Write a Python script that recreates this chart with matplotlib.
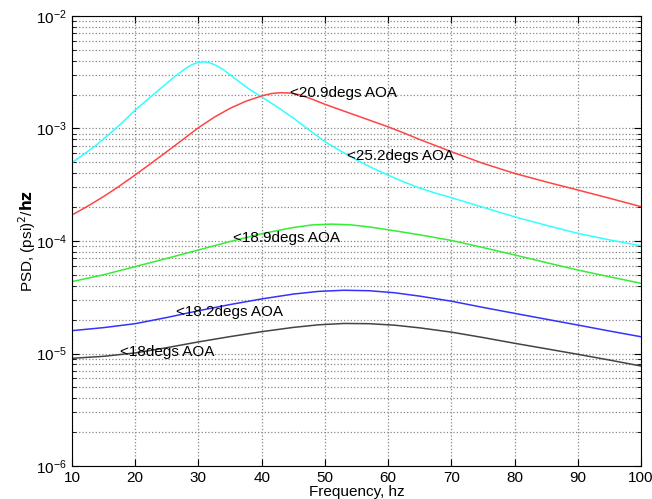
import matplotlib

matplotlib.use("Agg")

import matplotlib.pyplot as plt
from matplotlib.ticker import LogLocator, NullFormatter

plt.rcParams["font.family"] = ["Liberation Sans", "DejaVu Sans"]

# values
freq_c = [10, 12, 14, 16, 18, 20, 22, 24, 26, 28, 29, 30, 31, 32, 33, 34, 35, 36, 38,
          40, 42.5, 45, 47.5, 50, 52.5, 55, 57.5, 60, 62.5, 65, 67.5, 70, 75, 80, 85, 90,
          95, 100]
psd_252 = [4.97e-4, 5.96e-4, 7.24e-4, 9.02e-4, 1.135e-3, 1.459e-3, 1.82e-3, 2.265e-3,
           2.818e-3, 3.428e-3, 3.698e-3, 3.873e-3, 3.908e-3, 3.80e-3, 3.589e-3, 3.311e-3,
           2.999e-3, 2.723e-3, 2.239e-3, 1.905e-3, 1.549e-3, 1.239e-3, 9.70e-4, 7.64e-4,
           6.31e-4, 5.25e-4, 4.467e-4, 3.846e-4, 3.35e-4, 2.951e-4, 2.661e-4, 2.427e-4,
           1.995e-4, 1.641e-4, 1.38e-4, 1.17e-4, 1.023e-4, 9.08e-5]

freq_r = [10, 12.5, 15, 17.5, 20, 22.5, 25, 27.5, 30, 32.5, 35, 37.5, 40, 41.5, 43, 44.5,
          46, 48, 50, 52.5, 55, 57.5, 60, 62.5, 65, 67.5, 70, 75, 80, 85, 90, 95, 100]
psd_209 = [1.702e-4, 2.042e-4, 2.483e-4, 3.076e-4, 3.864e-4, 4.898e-4, 6.223e-4, 7.943e-4,
           1.016e-3, 1.259e-3, 1.510e-3, 1.746e-3, 1.945e-3, 2.042e-3, 2.080e-3, 2.065e-3,
           1.995e-3, 1.820e-3, 1.641e-3, 1.462e-3, 1.303e-3, 1.161e-3, 1.035e-3, 9.12e-4,
           7.98e-4, 7.05e-4, 6.22e-4, 4.90e-4, 3.99e-4, 3.35e-4, 2.84e-4, 2.40e-4, 2.02e-4]

freq_g = [10, 15, 20, 25, 30, 35, 40, 45, 48, 51, 54, 57, 60, 65, 70, 75, 80, 85, 90, 95, 100]
psd_189 = [4.355e-5, 5.01e-5, 5.92e-5, 7.0e-5, 8.32e-5, 9.89e-5, 1.161e-4, 1.318e-4,
           1.39e-4, 1.413e-4, 1.393e-4, 1.334e-4, 1.259e-4, 1.135e-4, 1.012e-4, 8.75e-5,
           7.52e-5, 6.43e-5, 5.52e-5, 4.81e-5, 4.21e-5]

freq_b = [10, 15, 20, 25, 30, 35, 40, 45, 49, 53, 57, 61, 65, 70, 75, 80, 85, 90, 95, 100]
psd_182 = [1.596e-5, 1.698e-5, 1.841e-5, 2.089e-5, 2.399e-5, 2.723e-5, 3.055e-5, 3.373e-5,
           3.565e-5, 3.648e-5, 3.614e-5, 3.467e-5, 3.236e-5, 2.917e-5, 2.57e-5, 2.275e-5,
           2.018e-5, 1.791e-5, 1.585e-5, 1.409e-5]
psd_180 = [9.06e-6, 9.44e-6, 1.012e-5, 1.127e-5, 1.268e-5, 1.413e-5, 1.563e-5, 1.706e-5,
           1.799e-5, 1.849e-5, 1.841e-5, 1.786e-5, 1.690e-5, 1.549e-5, 1.387e-5, 1.233e-5,
           1.102e-5, 9.84e-6, 8.75e-6, 7.74e-6]

labels = ["<20.9degs AOA", "<25.2degs AOA", "<18.9degs AOA", "<18.2degs AOA", "<18degs AOA"]
label_x = [44.5, 53.5, 35.5, 26.5, 17.6]
label_y = [2.07e-3, 5.7e-4, 1.06e-4, 2.34e-5, 1.03e-5]

fig = plt.figure(figsize=(6.52, 4.99), dpi=100)
ax = fig.add_axes([0.1104, 0.0661, 0.8727, 0.9019])

ax.plot(freq_c, psd_252, color="#33ffff", linewidth=1.1)
ax.plot(freq_r, psd_209, color="#ff4444", linewidth=1.1)
ax.plot(freq_g, psd_189, color="#33ee33", linewidth=1.1)
ax.plot(freq_b, psd_182, color="#3333ff", linewidth=1.1)
ax.plot(freq_b, psd_180, color="#444444", linewidth=1.1)

for t, x, y in zip(labels, label_x, label_y):
    ax.text(x, y, t, fontsize=11, va="center", ha="left")

ax.set_yscale("log")
ax.set_xlim(10, 100)
ax.set_ylim(1e-6, 1e-2)
ax.set_xticks(range(10, 101, 10))
ax.yaxis.set_minor_locator(LogLocator(base=10, subs=range(2, 10)))
ax.yaxis.set_minor_formatter(NullFormatter())

ax.grid(True, which="major", linestyle=":", color="#888888", linewidth=0.9)
ax.grid(True, which="minor", axis="y", linestyle=":", color="#888888", linewidth=0.9)

ax.tick_params(which="both", direction="in", top=True, right=True, labelsize=11)
ax.tick_params(which="major", length=5)
ax.tick_params(which="minor", length=3)

ax.set_xlabel("Frequency, hz", fontsize=11, labelpad=0)
ax.set_ylabel("PSD, (psi)$^2$/$\\mathbf{hz}$", fontsize=11, labelpad=-1)

fig.savefig("out.png", dpi=100)
